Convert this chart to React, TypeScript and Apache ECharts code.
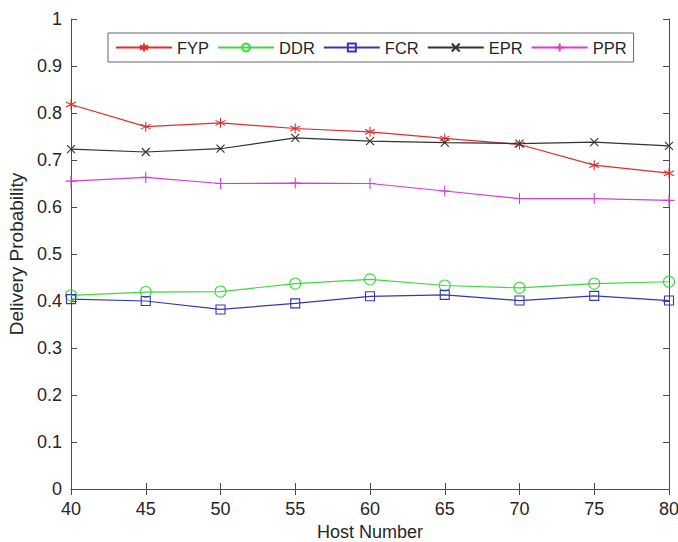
import React, { useEffect, useRef } from "react";
import * as echarts from "echarts";

const hostNumbers = [40, 45, 50, 55, 60, 65, 70, 75, 80];
const fyp = [0.818, 0.771, 0.779, 0.767, 0.76, 0.746, 0.733, 0.689, 0.672];
const ddr = [0.412, 0.419, 0.42, 0.437, 0.446, 0.433, 0.428, 0.437, 0.441];
const fcr = [0.404, 0.4, 0.382, 0.395, 0.41, 0.413, 0.401, 0.411, 0.401];
const epr = [0.723, 0.717, 0.724, 0.747, 0.74, 0.737, 0.735, 0.738, 0.73];
const ppr = [0.655, 0.663, 0.65, 0.651, 0.65, 0.634, 0.618, 0.618, 0.614];

const seriesNames = ["FYP", "DDR", "FCR", "EPR", "PPR"];
const xAxisName = "Host Number";
const yAxisName = "Delivery Probability";

const ASTERISK = "path://M0,-5L0,5M-4.33,-2.5L4.33,2.5M-4.33,2.5L4.33,-2.5";
const XMARK = "path://M-5,-5L5,5M-5,5L5,-5";
const PLUS = "path://M0,-5L0,5M-5,0L5,0";

const FONT = "Liberation Sans, Arial, Helvetica, sans-serif";
const AXIS_COLOR = "#4d4d4d";
const TEXT_COLOR = "#262626";

export default function App() {
  const ref = useRef<HTMLDivElement>(null);
  useEffect(() => {
    if (!ref.current) return;
    const chart = echarts.init(ref.current, undefined, { renderer: "svg" });
    const toPairs = (vals: number[]) => hostNumbers.map((x, i) => [x, vals[i]]);
    const styles = [
      { data: fyp, color: "#e32b2b", symbol: ASTERISK, size: 10 },
      { data: ddr, color: "#3fd83f", symbol: "circle", size: 11 },
      { data: fcr, color: "#3636b8", symbol: "rect", size: 9 },
      { data: epr, color: "#333333", symbol: XMARK, size: 8 },
      { data: ppr, color: "#d63dd6", symbol: PLUS, size: 11 },
    ];
    const series = styles.map((s, i) => ({
      name: seriesNames[i],
      type: "line",
      data: toPairs(s.data),
      symbol: s.symbol,
      symbolSize: s.size,
      showAllSymbol: true,
      lineStyle: { color: s.color, width: 1.2 },
      itemStyle: { color: "none", borderColor: s.color, borderWidth: 1.1 },
      emphasis: { disabled: true },
      z: 3,
    }));
    const axisCommon = {
      axisLine: { show: true, lineStyle: { color: AXIS_COLOR, width: 1 } },
      axisTick: { show: true, inside: true, length: 6, lineStyle: { color: AXIS_COLOR } },
      splitLine: { show: false },
    };
    chart.setOption({
      animation: false,
      textStyle: { fontFamily: FONT },
      grid: { left: 71, right: 9, top: 19, bottom: 53, containLabel: false, outerBoundsMode: "none" },
      legend: {
        left: 108,
        top: 33,
        orient: "horizontal",
        itemWidth: 56,
        itemHeight: 10,
        itemGap: 8,
        padding: [6, 7, 6, 7],
        borderColor: "#666666",
        borderWidth: 1,
        backgroundColor: "#ffffff",
        textStyle: { fontSize: 16.5, color: TEXT_COLOR, fontFamily: FONT },
        data: seriesNames,
      },
      xAxis: [
        {
          type: "value",
          min: 40,
          max: 80,
          interval: 5,
          name: xAxisName,
          nameLocation: "middle",
          nameGap: 32,
          nameTextStyle: { fontSize: 18, color: TEXT_COLOR, fontFamily: FONT },
          axisLabel: { fontSize: 18, color: TEXT_COLOR, margin: 11, fontFamily: FONT },
          ...axisCommon,
        },
        {
          type: "value",
          position: "top",
          min: 40,
          max: 80,
          interval: 5,
          axisLabel: { show: false },
          ...axisCommon,
        },
      ],
      yAxis: [
        {
          type: "value",
          min: 0,
          max: 1,
          interval: 0.1,
          name: yAxisName,
          nameLocation: "middle",
          nameGap: 39,
          nameTextStyle: { fontSize: 19, color: TEXT_COLOR, fontFamily: FONT },
          axisLabel: { fontSize: 18, color: TEXT_COLOR, margin: 9, fontFamily: FONT },
          ...axisCommon,
        },
        {
          type: "value",
          position: "right",
          min: 0,
          max: 1,
          interval: 0.1,
          axisLabel: { show: false },
          ...axisCommon,
        },
      ],
      series,
    });
    return () => chart.dispose();
  }, []);
  return <div ref={ref} style={{ width: 678, height: 542, position: "absolute", left: 0, top: 0, background: "#fff" }} />;
}
